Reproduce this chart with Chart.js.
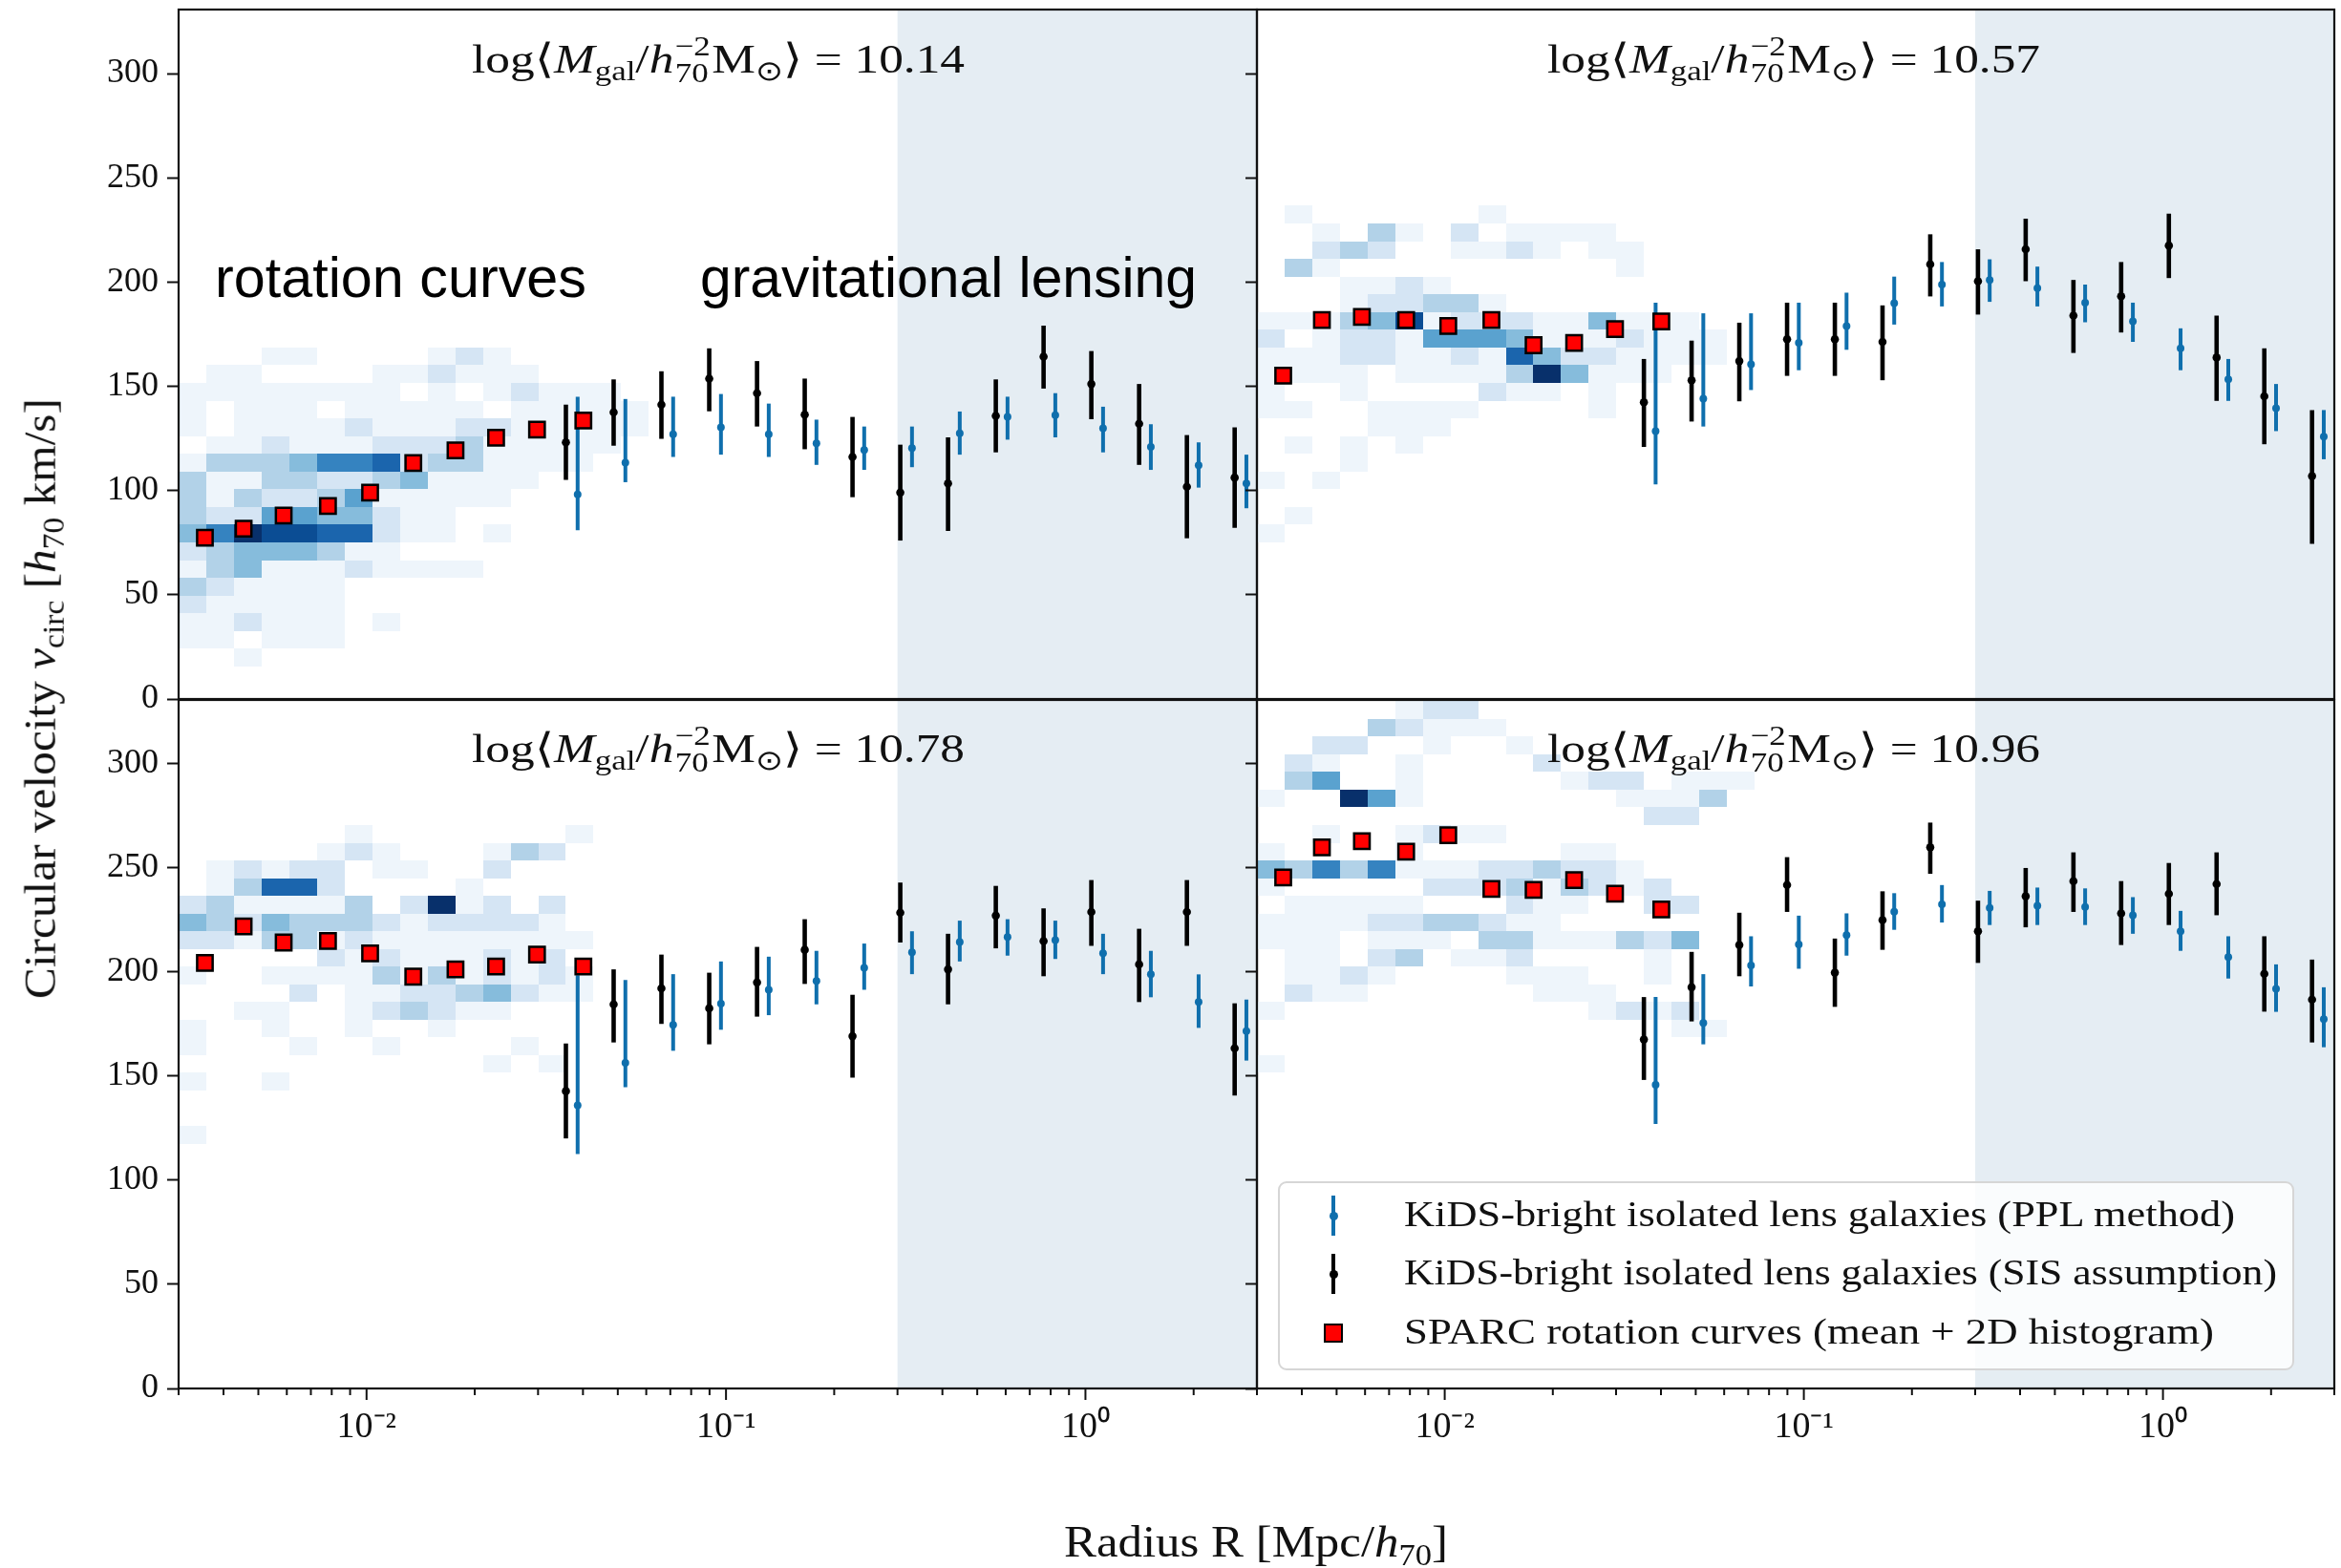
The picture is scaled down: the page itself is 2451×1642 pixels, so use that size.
<!DOCTYPE html>
<html>
<head>
<meta charset="utf-8">
<title>Circular velocity profiles: rotation curves and weak lensing</title>
<script src="https://cdn.jsdelivr.net/npm/chart.js@4.4.1/dist/chart.umd.min.js"></script>
<style>
  html, body { margin:0; padding:0; background:#fff; }
  #fig { position:relative; width:2451px; height:1642px; overflow:hidden; background:#fff; }
  #fig canvas { position:absolute; }
  .tx { position:absolute; white-space:nowrap; font-family:"Liberation Serif","Times New Roman",serif; color:#111; line-height:1.2; transform-origin:0 0; }
  .sans { font-family:"Liberation Sans", Arial, sans-serif; color:#000; }
  .tx sub { font-size:0.68em; vertical-align:-0.28em; line-height:0; }
  .ss { display:inline-flex; flex-direction:column; font-size:0.68em; line-height:0.95; vertical-align:0.62em; margin:0 0.04em; }
  .bl { display:inline-block; width:0; height:0; }
  #legend { position:absolute; left:1338px; top:1237px; width:1064px; height:198px; box-sizing:border-box;
            border:2px solid #d6d6d6; border-radius:9px; background:rgba(255,255,255,0.8); }
  .mk { position:absolute; }
</style>
</head>
<body>
<div id="fig"></div>
<script>
// ---------------------------------------------------------------- axes
const X_MIN = 0.003, X_MAX = 3;
const Y_MAX = 330.7;
const Y_TICKS = [0, 50, 100, 150, 200, 250, 300];
const X_TICKS = [0.003, 0.004, 0.005, 0.006, 0.007, 0.008, 0.009,
                 0.01, 0.02, 0.03, 0.04, 0.05, 0.06, 0.07, 0.08, 0.09,
                 0.1, 0.2, 0.3, 0.4, 0.5, 0.6, 0.7, 0.8, 0.9, 1, 2, 3];
const X_MAJOR = [0.01, 0.1, 1];
const X_LABELS = ['10\u207B\u00B2', '10\u207B\u00B9', '10\u2070'];
const LENSING_FROM = 0.3;           // start of the shaded lensing-only range [Mpc/h70]

// ---------------------------------------------------------------- radii [Mpc/h70]
const R_SPARC = [0.00355, 0.00455, 0.00588, 0.00781, 0.01023, 0.01349, 0.01768, 0.02293, 0.0298, 0.0401];
const R_SIS   = [0.03586, 0.04869, 0.06612, 0.08981, 0.1220, 0.1656, 0.2249, 0.3054, 0.4147, 0.5632, 0.7648, 1.0385, 1.4104, 1.9153, 2.601];
const R_PPL   = [0.03866, 0.05249, 0.07128, 0.09682, 0.1315, 0.1785, 0.2424, 0.3292, 0.4470, 0.6071, 0.8245, 1.1195, 1.5204, 2.0647, 2.804];

// ---------------------------------------------------------------- stellar-mass bin labels
const MASS_BINS = ['10.14', '10.57', '10.78', '10.96'];

// ---------------------------------------------------------------- bin 1 (log M = 10.14)
const B1_SPARC  = [77.3, 81.7, 88.0, 92.6, 99.0, 113.2, 119.3, 125.3, 129.2, 133.6];
const B1_SIS    = [123.1, 137.5, 141.2, 153.7, 146.7, 136.4, 116.1, 99.0, 103.4, 135.8, 164.2, 151.1, 132.0, 101.8, 106.2];
const B1_SIS_HI = [141.2, 153.3, 157.2, 168.2, 162.1, 153.7, 135.3, 122.0, 125.5, 153.3, 179.1, 166.9, 151.1, 126.6, 130.3];
const B1_SIS_LO = [105.1, 121.5, 124.8, 138.0, 130.7, 119.8, 96.8, 76.0, 80.6, 118.3, 148.9, 134.2, 112.3, 77.1, 82.1];
const B1_PPL    = [98.1, 113.4, 127.0, 130.3, 127.0, 122.6, 119.4, 120.4, 127.4, 135.3, 136.2, 129.9, 120.9, 112.1, 103.4];
const B1_PPL_HI = [145.0, 143.9, 145.0, 146.3, 141.7, 134.0, 130.7, 130.7, 137.9, 145.0, 146.7, 140.2, 131.8, 123.1, 117.2];
const B1_PPL_LO = [81.0, 104.0, 116.1, 117.2, 116.1, 112.3, 109.9, 111.2, 117.2, 124.4, 125.5, 118.3, 109.9, 101.4, 91.5];

// ---------------------------------------------------------------- bin 2 (log M = 10.57)
const B2_SPARC  = [155.1, 181.8, 183.3, 181.8, 178.9, 181.8, 169.7, 170.8, 177.4, 181.1];
const B2_SIS    = [142.3, 152.9, 162.1, 172.6, 172.6, 171.3, 208.5, 200.4, 215.7, 183.9, 193.2, 217.5, 163.8, 145.2, 106.9];
const B2_SIS_HI = [163.1, 171.9, 180.5, 190.1, 190.1, 188.8, 222.9, 215.7, 230.4, 201.0, 209.6, 232.8, 183.9, 168.2, 138.6];
const B2_SIS_LO = [120.9, 133.1, 142.8, 155.0, 155.0, 152.9, 193.1, 184.4, 200.4, 166.0, 175.8, 201.9, 143.0, 122.2, 74.4];
const B2_PPL    = [128.5, 144.1, 160.5, 170.8, 178.9, 189.9, 198.8, 201.0, 197.1, 190.1, 181.1, 168.2, 153.3, 139.5, 125.9];
const B2_PPL_HI = [190.1, 185.0, 185.0, 190.1, 194.9, 202.6, 209.6, 210.9, 207.4, 198.8, 190.1, 177.8, 163.1, 151.1, 138.6];
const B2_PPL_LO = [102.9, 130.7, 148.2, 157.7, 167.5, 179.6, 188.3, 190.5, 188.3, 180.7, 171.3, 157.7, 143.0, 128.5, 115.0];

// ---------------------------------------------------------------- bin 3 (log M = 10.78)
const B3_SPARC  = [204.4, 221.9, 214.2, 214.9, 209.0, 197.8, 201.3, 202.7, 208.4, 202.7];
const B3_SIS    = [142.8, 184.5, 192.2, 182.6, 195.0, 210.7, 169.2, 228.5, 201.3, 227.1, 214.9, 228.9, 203.7, 228.9, 163.4];
const B3_SIS_HI = [165.7, 201.3, 208.4, 199.7, 212.1, 225.4, 189.1, 243.0, 218.4, 241.4, 230.6, 244.2, 220.8, 244.2, 185.0];
const B3_SIS_LO = [120.1, 166.2, 175.1, 165.3, 178.6, 194.3, 149.3, 214.2, 184.5, 211.4, 198.0, 212.6, 185.6, 212.6, 140.7];
const B3_PPL    = [136.0, 156.4, 174.6, 184.9, 191.5, 195.7, 202.0, 209.5, 214.4, 216.8, 215.4, 209.0, 199.0, 185.6, 171.6];
const B3_PPL_HI = [198.5, 196.2, 199.0, 205.1, 207.4, 210.2, 213.7, 219.6, 224.7, 225.4, 224.7, 218.4, 210.2, 198.9, 186.8];
const B3_PPL_LO = [112.6, 144.7, 162.2, 172.3, 179.3, 184.5, 191.5, 199.0, 205.1, 207.9, 206.3, 199.0, 187.9, 173.2, 157.5];

// ---------------------------------------------------------------- bin 4 (log M = 10.96)
const B4_SPARC  = [245.4, 259.9, 262.9, 257.8, 265.7, 239.9, 239.5, 244.2, 237.6, 230.1];
const B4_SIS    = [167.6, 192.7, 213.0, 241.8, 199.7, 225.0, 259.9, 219.6, 236.4, 243.7, 228.2, 237.6, 242.3, 199.2, 186.8];
const B4_SIS_HI = [188.0, 209.7, 228.5, 255.2, 216.1, 238.8, 271.8, 234.3, 250.0, 257.5, 243.7, 252.4, 257.5, 217.2, 206.0];
const B4_SIS_LO = [148.2, 176.3, 198.0, 228.9, 183.3, 210.7, 247.2, 204.4, 221.5, 228.9, 213.0, 222.6, 227.3, 181.0, 166.2];
const B4_PPL    = [145.8, 175.6, 203.2, 213.3, 217.7, 229.0, 232.5, 230.8, 231.8, 231.3, 227.3, 219.6, 207.2, 191.9, 177.4];
const B4_PPL_HI = [188.0, 199.0, 217.2, 227.1, 228.2, 237.9, 241.8, 239.0, 240.6, 240.2, 236.0, 229.4, 217.2, 203.7, 192.7];
const B4_PPL_LO = [127.1, 165.3, 193.1, 201.6, 207.9, 220.3, 223.8, 222.6, 222.6, 222.6, 218.4, 210.2, 196.9, 180.9, 163.9];

// ---------------------------------------------------------------- SPARC 2D histograms
// bin grid: log10(R) edges start at HIST_LOGR0 with width HIST_DLOGR, v edges start at HIST_V0 with width HIST_DV.
// Each string is one velocity row (highest row first); each character is the shade level (0 = empty, 9 = darkest).
const HIST_LOGR0 = -2.522, HIST_DLOGR = 0.0769;
const HIST_V0 = 15.6, HIST_DV = 8.5;

const B1_HIST_TOP = 17;
const B1_HIST = [
  "00011000012100000",
  "01100001121110000",
  "11111111010121110",
  "10111011111011111",
  "10111121112211111",
  "01121112223111110",
  "13334667233111100",
  "31133223411110000",
  "31322351111100000",
  "32255442110000000",
  "46988772110100000",
  "23444311000000000",
  "13411121111000000",
  "32111100000000000",
  "21111100000000000",
  "11211101000000000",
  "11011100000000000",
  "00100000000000000"
];
const B2_HIST_TOP = 25;
const B2_HIST = [
  "010000001000000000",
  "001031020111100000",
  "002320011210110000",
  "031000000000010000",
  "000112100000000000",
  "000122331000000000",
  "111348122211411100",
  "201221555411121110",
  "111221121742211110",
  "111101111394111000",
  "100100002110100000",
  "110011110000100000",
  "000011100000000000",
  "010101000000000000",
  "000100000000000000",
  "101000000000000000",
  "000000000000000000",
  "010000000000000000",
  "100000000000000000"
];
const B3_HIST_TOP = 29;
const B3_HIST = [
  "00000010000000100",
  "00000121000132000",
  "01212201100200000",
  "01377200001000000",
  "23111130291202000",
  "43243332122221000",
  "22133121111111100",
  "00000212111212000",
  "10011113131212100",
  "00002011223421100",
  "00110012321100000",
  "10010010010000000",
  "10001001000010000",
  "00000000000101000",
  "10010000000000000",
  "00000000000000000",
  "00000000000000000",
  "10000000000000000"
];
const B4_HIST_TOP = 36;
const B4_HIST = [
  "000001220000000000",
  "000032111000000000",
  "002200100100000000",
  "021001000020000000",
  "035001000001220111",
  "100951000000011130",
  "000000000000002200",
  "001001211000000000",
  "100001000001100000",
  "436361112232210000",
  "100000222313212000",
  "011111000211002200",
  "111122332110000000",
  "111011103311132400",
  "011023011200001000",
  "011210000111001000",
  "021100000011100000",
  "100000000000121200",
  "000000000000000110",
  "000000000000000000",
  "100000000000000000"
];

// ---------------------------------------------------------------- styling
const SERIF = '"Liberation Serif", "Times New Roman", serif';
const INK = '#111111';
const BLUE = '#0f6fad';
const RED = '#ff0000';
const SHADE = 'rgb(229,237,243)';
const BLUES = [null, '#eef5fb', '#d5e5f4', '#b2d2e8', '#86bcdc', '#5aa2cf', '#3583c0', '#1b65ad', '#0b4d94', '#08306b'];

const fig = document.getElementById('fig');
const PANEL_OF = new WeakMap();

// frame, shaded lensing range, histogram cells and error bars
const panelDecor = {
  id: 'panelDecor',
  beforeDatasetsDraw(chart) {
    const p = PANEL_OF.get(chart.canvas); if (!p) return;
    const ctx = chart.ctx, a = chart.chartArea, xs = chart.scales.x, ys = chart.scales.y;
    ctx.save();
    ctx.beginPath(); ctx.rect(a.left, a.top, a.right - a.left, a.bottom - a.top); ctx.clip();

    const sx = xs.getPixelForValue(LENSING_FROM);
    ctx.fillStyle = SHADE;
    ctx.fillRect(sx, a.top, a.right - sx, a.bottom - a.top);

    p.hist.forEach((row, j) => {
      const k = p.histTop - j;
      const vLo = HIST_V0 + k * HIST_DV, vHi = vLo + HIST_DV;
      const yT = Math.round(ys.getPixelForValue(vHi)), yB = Math.round(ys.getPixelForValue(vLo));
      for (let i = 0; i < row.length; i++) {
        const lev = row.charCodeAt(i) - 48;
        if (lev <= 0) continue;
        const xL = Math.round(xs.getPixelForValue(Math.pow(10, HIST_LOGR0 + i * HIST_DLOGR)));
        const xR = Math.round(xs.getPixelForValue(Math.pow(10, HIST_LOGR0 + (i + 1) * HIST_DLOGR)));
        ctx.fillStyle = BLUES[lev];
        ctx.fillRect(xL, yT, xR - xL, yB - yT);
      }
    });

    chart.data.datasets.forEach(ds => {
      if (!ds.errLo) return;
      ctx.strokeStyle = ds.errColor; ctx.lineWidth = ds.errWidth; ctx.lineCap = 'butt';
      ds.data.forEach((pt, i) => {
        const px = xs.getPixelForValue(pt.x);
        ctx.beginPath();
        ctx.moveTo(px, ys.getPixelForValue(ds.errLo[i]));
        ctx.lineTo(px, ys.getPixelForValue(ds.errHi[i]));
        ctx.stroke();
      });
    });
    ctx.restore();
  },
  afterDraw(chart) {
    const p = PANEL_OF.get(chart.canvas); if (!p) return;
    const ctx = chart.ctx, a = chart.chartArea, xs = chart.scales.x;
    ctx.save();
    ctx.strokeStyle = INK; ctx.lineWidth = 2.2;
    ctx.strokeRect(a.left, a.top, a.right - a.left, a.bottom - a.top);
    if (p.bottom) {
      ctx.lineWidth = 2;
      X_TICKS.forEach(v => {
        const px = xs.getPixelForValue(v);
        const len = X_MAJOR.includes(v) ? 12 : 7;
        ctx.beginPath(); ctx.moveTo(px, a.bottom); ctx.lineTo(px, a.bottom + len); ctx.stroke();
      });
    }
    ctx.restore();
  }
};

// page-space plot areas of the four panels and the canvases that hold them
const PANELS = [
  { area:{l:187,  t:10,  r:1316, b:732},  box:{x:0,    y:0,   w:1316, h:740}, pad:{top:10, bottom:8, left:0, right:0}, left:true,  bottom:false,
    sparc:B1_SPARC, sis:B1_SIS, sisLo:B1_SIS_LO, sisHi:B1_SIS_HI, ppl:B1_PPL, pplLo:B1_PPL_LO, pplHi:B1_PPL_HI, hist:B1_HIST, histTop:B1_HIST_TOP },
  { area:{l:1316, t:10,  r:2444, b:732},  box:{x:1296, y:0,   w:1155, h:740}, pad:{top:10, bottom:8, left:0, right:7}, left:false, bottom:false,
    sparc:B2_SPARC, sis:B2_SIS, sisLo:B2_SIS_LO, sisHi:B2_SIS_HI, ppl:B2_PPL, pplLo:B2_PPL_LO, pplHi:B2_PPL_HI, hist:B2_HIST, histTop:B2_HIST_TOP },
  { area:{l:187,  t:733, r:1316, b:1454}, box:{x:0,    y:725, w:1316, h:917}, pad:{top:8, bottom:0, left:0, right:0}, left:true,  bottom:true,
    sparc:B3_SPARC, sis:B3_SIS, sisLo:B3_SIS_LO, sisHi:B3_SIS_HI, ppl:B3_PPL, pplLo:B3_PPL_LO, pplHi:B3_PPL_HI, hist:B3_HIST, histTop:B3_HIST_TOP },
  { area:{l:1316, t:733, r:2444, b:1454}, box:{x:1296, y:725, w:1155, h:917}, pad:{top:8, bottom:0, left:0, right:7}, left:false, bottom:true,
    sparc:B4_SPARC, sis:B4_SIS, sisLo:B4_SIS_LO, sisHi:B4_SIS_HI, ppl:B4_PPL, pplLo:B4_PPL_LO, pplHi:B4_PPL_HI, hist:B4_HIST, histTop:B4_HIST_TOP }
];

function createChart(p, box) {
  const c = document.createElement('canvas');
  c.width = box.w; c.height = box.h;
  c.style.left = box.x + 'px'; c.style.top = box.y + 'px';
  c.style.width = box.w + 'px'; c.style.height = box.h + 'px';
  fig.appendChild(c);
  PANEL_OF.set(c, p);

  const datasets = [
    { label:'SPARC rotation curves', data:R_SPARC.map((r, i) => ({x:r, y:p.sparc[i]})),
      pointStyle:'rect', pointRadius:11.5, pointBackgroundColor:RED, pointBorderColor:'#000', pointBorderWidth:2.5 },
    { label:'SIS assumption', data:R_SIS.map((r, i) => ({x:r, y:p.sis[i]})),
      pointRadius:4.3, pointBackgroundColor:'#000', pointBorderWidth:0,
      errLo:p.sisLo, errHi:p.sisHi, errColor:'#000', errWidth:4.6 },
    { label:'PPL method', data:R_PPL.map((r, i) => ({x:r, y:p.ppl[i]})),
      pointRadius:4, pointBackgroundColor:BLUE, pointBorderWidth:0,
      errLo:p.pplLo, errHi:p.pplHi, errColor:BLUE, errWidth:4 }
  ];

  const xScale = {
    type:'logarithmic', min:X_MIN, max:X_MAX, display:p.bottom,
    afterBuildTicks: s => { s.ticks = X_TICKS.map(v => ({value:v, major:X_MAJOR.includes(v)})); },
    ticks: { autoSkip:false, maxRotation:0, minRotation:0, padding:18, color:INK,
             font:{family:SERIF, size:38},
             callback: v => { const k = X_MAJOR.indexOf(v); return k >= 0 ? X_LABELS[k] : ''; } },
    grid: { display:false, drawTicks:false },
    border: { display:false },
    afterFit: s => { s.height = p.bottom ? 188 : 0; s.paddingLeft = 0; s.paddingRight = 0; s.paddingTop = 0; s.paddingBottom = 0; }
  };
  const yScale = {
    type:'linear', min:0, max:Y_MAX,
    afterBuildTicks: s => { s.ticks = Y_TICKS.map(v => ({value:v})); },
    ticks: { display:p.left, padding:9, color:INK, font:{family:SERIF, size:36} },
    grid: { drawOnChartArea:false, drawTicks:true, tickLength:12, tickWidth:2, tickColor:INK, color:INK },
    border: { display:false },
    afterFit: s => { s.width = p.left ? 187 : 20; s.paddingTop = 0; s.paddingBottom = 0; s.paddingLeft = 0; s.paddingRight = 0; }
  };

  const chart = new Chart(c, {
    type:'scatter',
    data:{ datasets },
    options:{
      responsive:false, animation:false, devicePixelRatio:1, events:[],
      layout:{ padding:p.pad },
      scales:{ x:xScale, y:yScale },
      plugins:{ legend:{display:false}, tooltip:{enabled:false}, title:{display:false} }
    },
    plugins:[panelDecor]
  });
  return {chart, canvas:c};
}

// build each panel; if the layout engine leaves the plot area off target, shift/resize the canvas and rebuild
function buildPanel(p) {
  let box = Object.assign({}, p.box);
  for (let pass = 0; pass < 3; pass++) {
    const {chart, canvas} = createChart(p, box);
    const a = chart.chartArea;
    const dl = box.x + a.left - p.area.l, dt = box.y + a.top - p.area.t;
    const dr = box.x + a.right - p.area.r, db = box.y + a.bottom - p.area.b;
    if (Math.max(Math.abs(dl), Math.abs(dt), Math.abs(dr), Math.abs(db)) < 0.6 || pass === 2) return chart;
    chart.destroy(); canvas.remove();
    box = { x: box.x - dl, y: box.y - dt, w: box.w - dr + dl, h: box.h - db + dt };
  }
}
PANELS.forEach(buildPanel);

// ---------------------------------------------------------------- legend box and markers
const legend = document.createElement('div');
legend.id = 'legend';
fig.appendChild(legend);
function marker(css) { const m = document.createElement('div'); m.className = 'mk'; Object.assign(m.style, css); legend.appendChild(m); }
[[34, BLUE, 4], [95, '#000', 4.6]].forEach(([cy, col, w]) => {
  marker({left:(56 - w / 2) + 'px', top:(cy - 21) + 'px', width:w + 'px', height:'42px', background:col});
  marker({left:'51.5px', top:(cy - 4.5) + 'px', width:'9px', height:'9px', borderRadius:'50%', background:col});
});
marker({left:'46px', top:'147px', width:'20px', height:'20px', boxSizing:'border-box', border:'2.5px solid #000', background:RED});

// ---------------------------------------------------------------- text
function addText(html, o) {
  const d = document.createElement('div');
  d.className = 'tx' + (o.sans ? ' sans' : '');
  d.style.fontSize = o.size + 'px';
  d.innerHTML = html + '<span class="bl"></span>';
  fig.appendChild(d);
  const natW = d.getBoundingClientRect().width;
  const base = d.querySelector('.bl').offsetTop;
  const sx = o.width ? o.width / natW : 1;
  const w = natW * sx;
  const left = (o.cx !== undefined) ? o.cx - w / 2 : o.left;
  d.style.left = left + 'px';
  d.style.top = (o.baseline - base) + 'px';
  d.style.transform = 'scaleX(' + sx + ')';
  return d;
}
function addVertical(html, o) {
  const d = document.createElement('div');
  d.className = 'tx';
  d.style.fontSize = o.size + 'px';
  d.innerHTML = html + '<span class="bl"></span>';
  fig.appendChild(d);
  const r = d.getBoundingClientRect();
  const base = d.querySelector('.bl').offsetTop;
  const sx = o.length / r.width;
  // rotating about the box centre puts the baseline at x = centre + (base - height/2)
  const cxBox = o.baselineX - (base - r.height / 2);
  d.style.left = (cxBox - r.width / 2) + 'px';
  d.style.top = (o.cy - r.height / 2) + 'px';
  d.style.transformOrigin = '50% 50%';
  d.style.transform = 'rotate(-90deg) scaleX(' + sx + ')';
  return d;
}

const titleHtml = v => 'log\u27E8<i>M</i><sub>gal</sub>/<i>h</i><span class="ss"><span>\u22122</span><span>70</span></span>M<sub>\u2299</sub>\u27E9 = ' + v;
const TITLE_POS = [[752, 76], [1878, 76], [752, 798], [1878, 798]];
MASS_BINS.forEach((v, i) => addText(titleHtml(v), {size:43, cx:TITLE_POS[i][0], baseline:TITLE_POS[i][1], width:516}));

addText('rotation curves', {sans:true, size:59, left:225, baseline:311, width:389});
addText('gravitational lensing', {sans:true, size:59, left:733, baseline:311, width:520});

addText('Radius R [Mpc/<i>h</i><sub>70</sub>]', {size:46, cx:1315, baseline:1630, width:402});
addVertical('Circular velocity <i>v</i><sub>circ</sub> [<i>h</i><sub>70</sub> km/s]', {size:46, baselineX:58, cy:732, length:629});

const LEGEND_TEXT = [
  ['KiDS-bright isolated lens galaxies (PPL method)', 1283.5, 870],
  ['KiDS-bright isolated lens galaxies (SIS assumption)', 1345, 914],
  ['SPARC rotation curves (mean + 2D histogram)', 1406.5, 848]
];
LEGEND_TEXT.forEach(([t, b, w]) => addText(t, {size:37, left:1470, baseline:b, width:w}));
</script>
</body>
</html>
